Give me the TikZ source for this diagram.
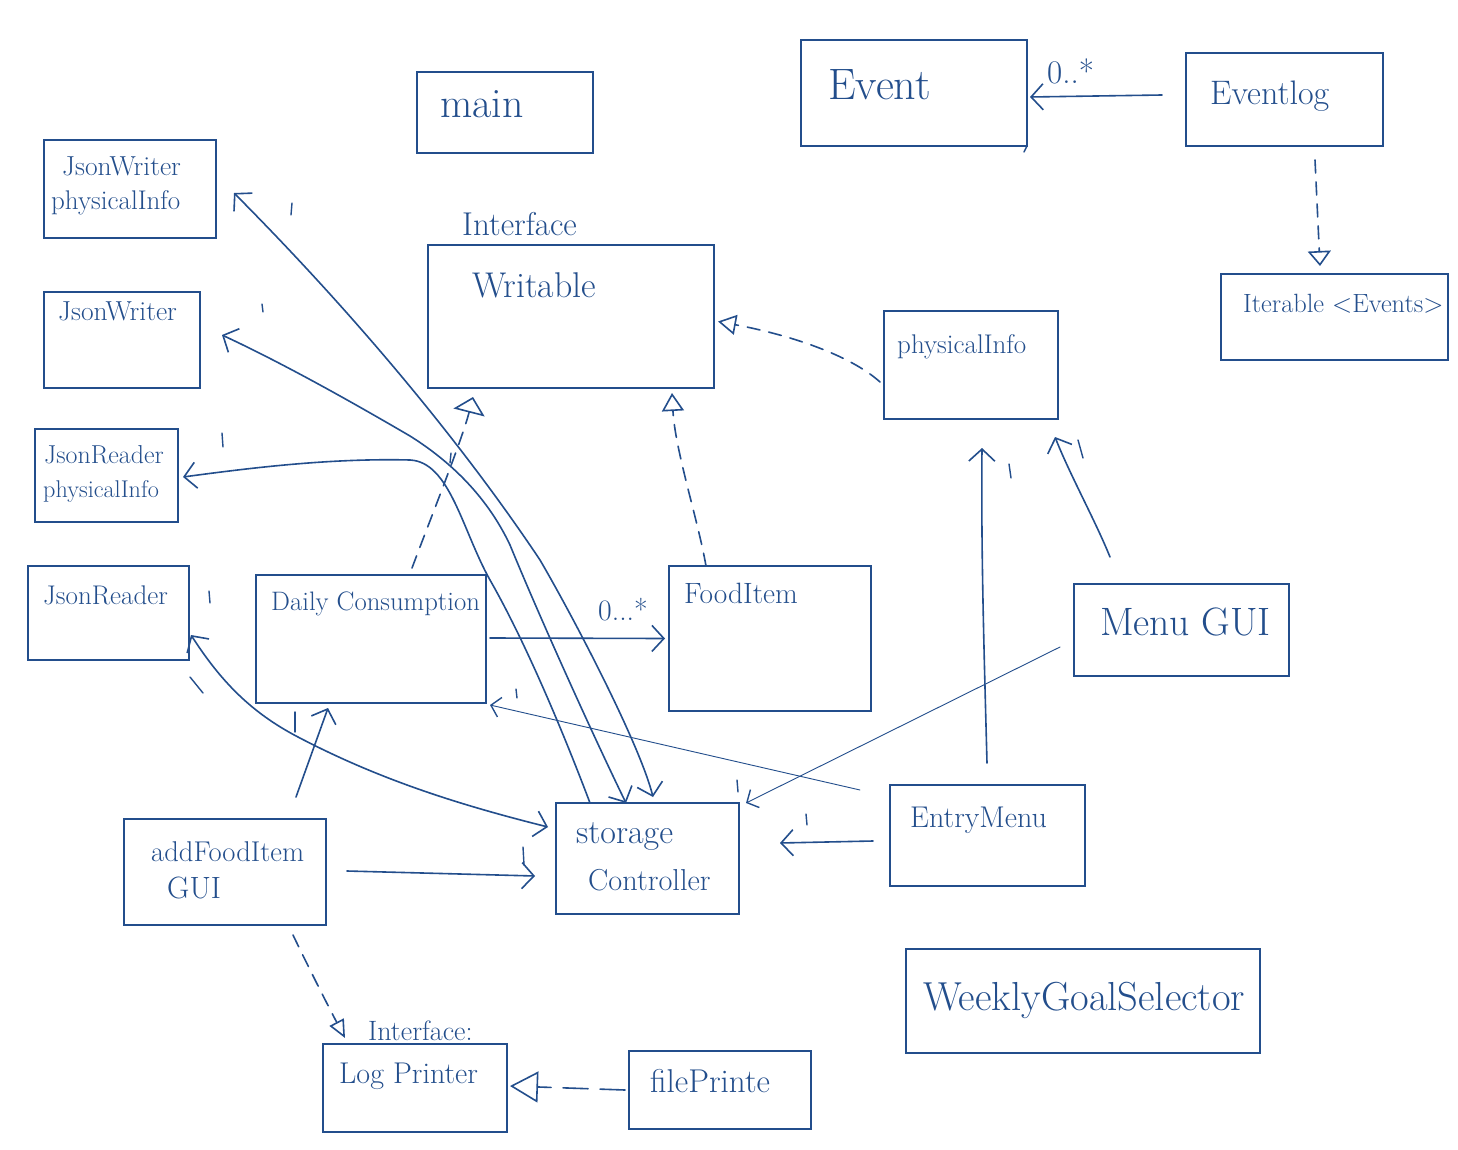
\documentclass[tikz,border=0pt]{standalone}
\usepackage{fontspec}
\usetikzlibrary{arrows.meta,calc}
\definecolor{ink}{RGB}{35,78,140}
\newcommand\setfs[1]{\fontsize{#1}{#1}\selectfont}
\tikzset{
  box/.style={draw=ink, line width=1.2pt, inner sep=0pt, outer sep=0pt},
  lbl/.style={anchor=base west, inner sep=0pt, text=ink},
  conn/.style={draw=ink, line width=1.6pt, line cap=round, line join=round},
  fine/.style={draw=ink, line width=0.9pt, line cap=round},
  dashy/.style={dash pattern=on 13pt off 9pt},
  barb/.style={-{Straight Barb[length=12pt,width=26pt]}},
  barbs/.style={{Straight Barb[length=12pt,width=26pt]}-{Straight Barb[length=12pt,width=26pt]}},
  sbarb/.style={-{Straight Barb[length=9pt,width=20pt,line width=1.4pt]}},
  tick/.style={draw=ink, line width=1.4pt, line cap=round}
}
\begin{document}
\begin{tikzpicture}[x=1pt,y=-1pt]
\fill[white] (0,0) rectangle (1458,1150);
\useasboundingbox (0,0) rectangle (1458,1150);

% ---- class boxes ----
\node[box, minimum width=176, minimum height=81]  (main)     at (505,112.5) {};
\node[box, minimum width=226, minimum height=106] (event)    at (914,93) {};
\node[box, minimum width=197, minimum height=93]  (eventlog) at (1284.5,99.5) {};
\node[box, minimum width=227, minimum height=86]  (iter)     at (1334.5,317) {};
\node[box, minimum width=172, minimum height=98]  (jwp)      at (130,189) {};
\node[box, minimum width=156, minimum height=96]  (jw)       at (122,340) {};
\node[box, minimum width=143, minimum height=93]  (jrp)      at (106.5,475.5) {};
\node[box, minimum width=161, minimum height=94]  (jr)       at (108.5,613) {};
\node[box, minimum width=286, minimum height=143] (writable) at (571,316.5) {};
\node[box, minimum width=174, minimum height=108] (pinfo)    at (971,365) {};
\node[box, minimum width=230, minimum height=128] (daily)    at (371,639) {};
\node[box, minimum width=202, minimum height=145] (food)     at (770,638.5) {};
\node[box, minimum width=215, minimum height=92]  (menugui)  at (1181.5,630) {};
\node[box, minimum width=202, minimum height=106] (addfood)  at (225,872) {};
\node[box, minimum width=183, minimum height=111] (storage)  at (647.5,858.5) {};
\node[box, minimum width=195, minimum height=101] (entry)    at (987.5,835.5) {};
\node[box, minimum width=354, minimum height=104] (weekly)   at (1083,1001) {};
\node[box, minimum width=184, minimum height=88]  (logp)     at (415,1088) {};
\node[box, minimum width=182, minimum height=78]  (filep)    at (720,1090) {};

% ---- class names ----
\node[lbl, font=\setfs{41.8}] (main-t)     at (440,118)  {main};
\node[lbl, font=\setfs{44}]   (event-t)    at (828,100)  {Event};
\node[lbl, font=\setfs{34}]   (eventlog-t) at (1210,105) {Eventlog};
\node[lbl, font=\setfs{26.4}] (iter-t)     at (1243,312) {Iterable <Events>};
\node[lbl, font=\setfs{27.5}] (jwp-t1)     at (62,176)   {JsonWriter};
\node[lbl, font=\setfs{27}]   (jwp-t2)     at (51,210)   {physicalInfo};
\node[lbl, font=\setfs{27.5}] (jw-t)       at (58,320)   {JsonWriter};
\node[lbl, font=\setfs{25.9}] (jrp-t1)     at (44,463)   {JsonReader};
\node[lbl, font=\setfs{24.2}] (jrp-t2)     at (43,497)   {physicalInfo};
\node[lbl, font=\setfs{27}]   (jr-t)       at (43,604)   {JsonReader};
\node[lbl, font=\setfs{33}]   (writable-s) at (462,236)  {Interface};
\node[lbl, font=\setfs{35.8}] (writable-t) at (472,298)  {Writable};
\node[lbl, font=\setfs{27}]   (pinfo-t)    at (897,353)  {physicalInfo};
\node[lbl, font=\setfs{26.7}] (daily-t)    at (271,610)  {Daily Consumption};
\node[lbl, font=\setfs{29.4}] (food-t)     at (684,603)  {FoodItem};
\node[lbl, font=\setfs{39.6}] (menugui-t)  at (1100,635) {Menu GUI};
\node[lbl, font=\setfs{28.6}] (addfood-t1) at (151,861)  {addFoodItem};
\node[lbl, font=\setfs{30.8}] (addfood-t2) at (167,898)  {GUI};
\node[lbl, font=\setfs{34}]   (storage-t1) at (576,843)  {storage};
\node[lbl, font=\setfs{30.3}] (storage-t2) at (588,890)  {Controller};
\node[lbl, font=\setfs{30}]   (entry-t)    at (910,827)  {EntryMenu};
\node[lbl, font=\setfs{40.5}] (weekly-t)   at (923,1010) {WeeklyGoalSelector};
\node[lbl, font=\setfs{28}]   (logp-s)     at (368,1040) {Interface:};
\node[lbl, font=\setfs{30}]   (logp-t)     at (339,1083) {Log Printer};
\node[lbl, font=\setfs{33}]   (filep-t)    at (650,1092) {filePrinte};

% ---- multiplicities ----
\node[lbl, font=\setfs{29.7}] (m-food)  at (598,620) {0...*};
\node[lbl, font=\setfs{33}]   (m-event) at (1047,84) {0..*};

% ---- associations ----
\draw[conn, barb] ($(eventlog.west)+(-24,-4.5)$) -- ($(event.east)+(3,4)$);
\draw[conn, barb] ($(daily.east)+(4,-1)$) -- ($(food.west)+(-4,0)$);

\draw[conn, barbs] ($(storage.north)+(5.5,-6)$)
   .. controls (640,745) and (575,620) .. (540,560)
   .. controls (480,470) and (380,340) .. ($(jwp.east)+(18,4)$);
\draw[conn, barbs] ($(storage.north)+(-21.5,0)$)
   .. controls (600,750) and (545,630) .. (510,545)
   .. controls (485,492) and (445,458) .. (410,436)
   .. controls (345,398) and (280,362) .. ($(jw.east)+(22,-5)$);
\draw[conn, barb] ($(storage.north)+(-57.5,0)$)
   .. controls (570,750) and (530,650) .. (490,580)
   .. controls (462,530) and (450,462) .. (410,460)
   .. controls (330,458) and (250,468) .. ($(jrp.east)+(5,1.5)$);
\draw[conn, barbs] ($(jr.east)+(2,22)$)
   .. controls (220,680) and (250,712) .. (298,737)
   .. controls (380,780) and (460,805) .. ($(storage.west)+(-8,-31.5)$);

\draw[conn, barb] ($(addfood.north)+(71,-22)$) -- ($(daily.south)+(-43,5)$);
\draw[conn, barb] ($(addfood.east)+(21,-1)$) -- ($(storage.west)+(-21,17.5)$);
\draw[conn, barb] ($(entry.west)+(-17,5.5)$) -- ($(storage.east)+(41,-15.5)$);
\draw[fine, sbarb] ($(entry.west)+(-30,-45.5)$) -- ($(daily.south east)+(4,2)$);
\draw[fine, sbarb] ($(menugui.west)+(-14,17)$) -- ($(storage.north east)+(7,0)$);
\draw[conn, barb] ($(entry.north)+(-0.5,-22)$)
   .. controls (984,650) and (981,550) .. ($(pinfo.south)+(11,29)$);
\draw[conn, barb] ($(menugui.north)+(-71.5,-27)$)
   .. controls (1095,520) and (1070,475) .. ($(pinfo.south east)+(-3,18)$);

% ---- realizations ----
\draw[conn, dashy, -{Triangle[open,length=15pt,width=23pt]}]
   ($(eventlog.south)+(30.5,14)$) -- ($(iter.north)+(-14.5,-8)$);
\draw[conn, dashy, -{Triangle[open,length=18pt,width=20pt]}]
   ($(pinfo.west)+(-4,17)$) .. controls (850,355) and (790,335) .. ($(writable.east)+(4,5)$);
\draw[conn, dashy, -{Triangle[open,length=16pt,width=32pt]}]
   ($(daily.north)+(41,-7)$) .. controls (430,520) and (462,440) .. ($(writable.south)+(-98,9)$);
\draw[conn, dashy, -{Triangle[open,length=18pt,width=22pt]}]
   ($(food.north)+(-64,0)$) .. controls (698,520) and (675,450) .. ($(writable.south)+(101,5)$);
\draw[conn, dashy, -{Triangle[open,length=18pt,width=16pt]}]
   ($(addfood.south)+(68,10)$) .. controls (305,960) and (325,1000) .. ($(logp.north)+(-70,-6)$);
\draw[conn, dash pattern=on 25pt off 12pt, -{Triangle[open,length=28pt,width=31pt]}]
   ($(filep.west)+(-4,0)$) -- ($(logp.east)+(3,-2)$);

% ---- small tick marks ----
\draw[tick] (292,203) -- (291,215);
\draw[tick] (262,304) -- (263,312);
\draw[tick] (222,433) -- (223,447);
\draw[tick] (209,591) -- (210,603);
\draw[tick] (190,677) -- (203,693);
\draw[tick] (451,453) -- (450,463);
\draw[tick] (295,712) -- (295,732);
\draw[tick] (516,689) -- (517,698);
\draw[tick] (737,780) -- (738,792);
\draw[tick] (806,814) -- (807,825);
\draw[tick] (523,847) -- (524,865);
\draw[tick] (1009,464) -- (1011,478);
\draw[tick] (1078,440) -- (1083,458);
\draw[tick] (1027,146) -- (1024,152);
\end{tikzpicture}
\end{document}
